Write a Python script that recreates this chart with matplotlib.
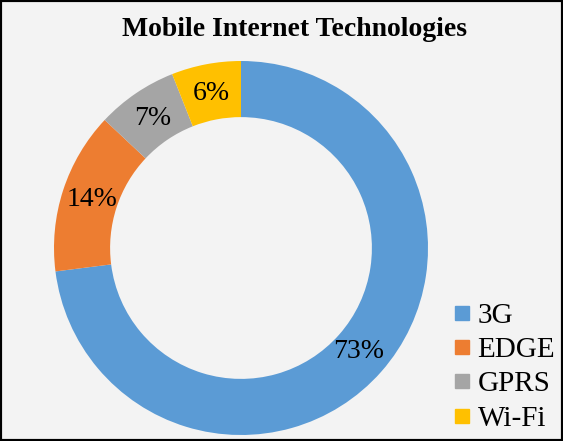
import matplotlib
matplotlib.use("Agg")
import matplotlib.pyplot as plt
from matplotlib.lines import Line2D
from matplotlib.patches import Rectangle

labels = ["3G", "EDGE", "GPRS", "Wi-Fi"]
shares = [73, 14, 7, 6]
colors = ["#5B9BD5", "#ED7D31", "#A5A5A5", "#FFC000"]

plt.rcParams["font.family"] = ["Liberation Serif", "DejaVu Serif"]

fig = plt.figure(figsize=(5.63, 4.41), dpi=100)
fig.patch.set_facecolor("#f3f3f3")

# donut: center ~ (241, 248) px, outer radius ~187 px
ax = fig.add_axes([54 / 563, 6 / 441, 374 / 563, 374 / 441])
wedges, texts, autotexts = ax.pie(
    shares, colors=colors, startangle=90, counterclock=False,
    radius=1, autopct="%d%%", pctdistance=0.84,
    wedgeprops=dict(width=0.30, linewidth=0),
    textprops=dict(fontsize=20, color="black"))
ax.set_xlim(-1, 1)
ax.set_ylim(-1, 1)
ax.set_aspect("equal")
ax.axis("off")

fig.text(294 / 563, 1 - 29 / 441, "Mobile Internet Technologies",
         ha="center", va="center", fontsize=20, fontweight="bold")

handles = [Line2D([], [], marker="s", linestyle="none", markersize=10,
                  markerfacecolor=c, markeredgecolor=c) for c in colors]
fig.legend(handles, labels, loc="lower right", bbox_to_anchor=(1.012, -0.012),
           frameon=False, fontsize=21, handlelength=0.5, handletextpad=0.3,
           labelspacing=0.27, borderaxespad=0.1)

# outer frame
fig.add_artist(Rectangle((0, 0), 1, 1, transform=fig.transFigure,
                         fill=False, edgecolor="black", linewidth=3))

fig.savefig("out.png", dpi=100, facecolor=fig.get_facecolor())
